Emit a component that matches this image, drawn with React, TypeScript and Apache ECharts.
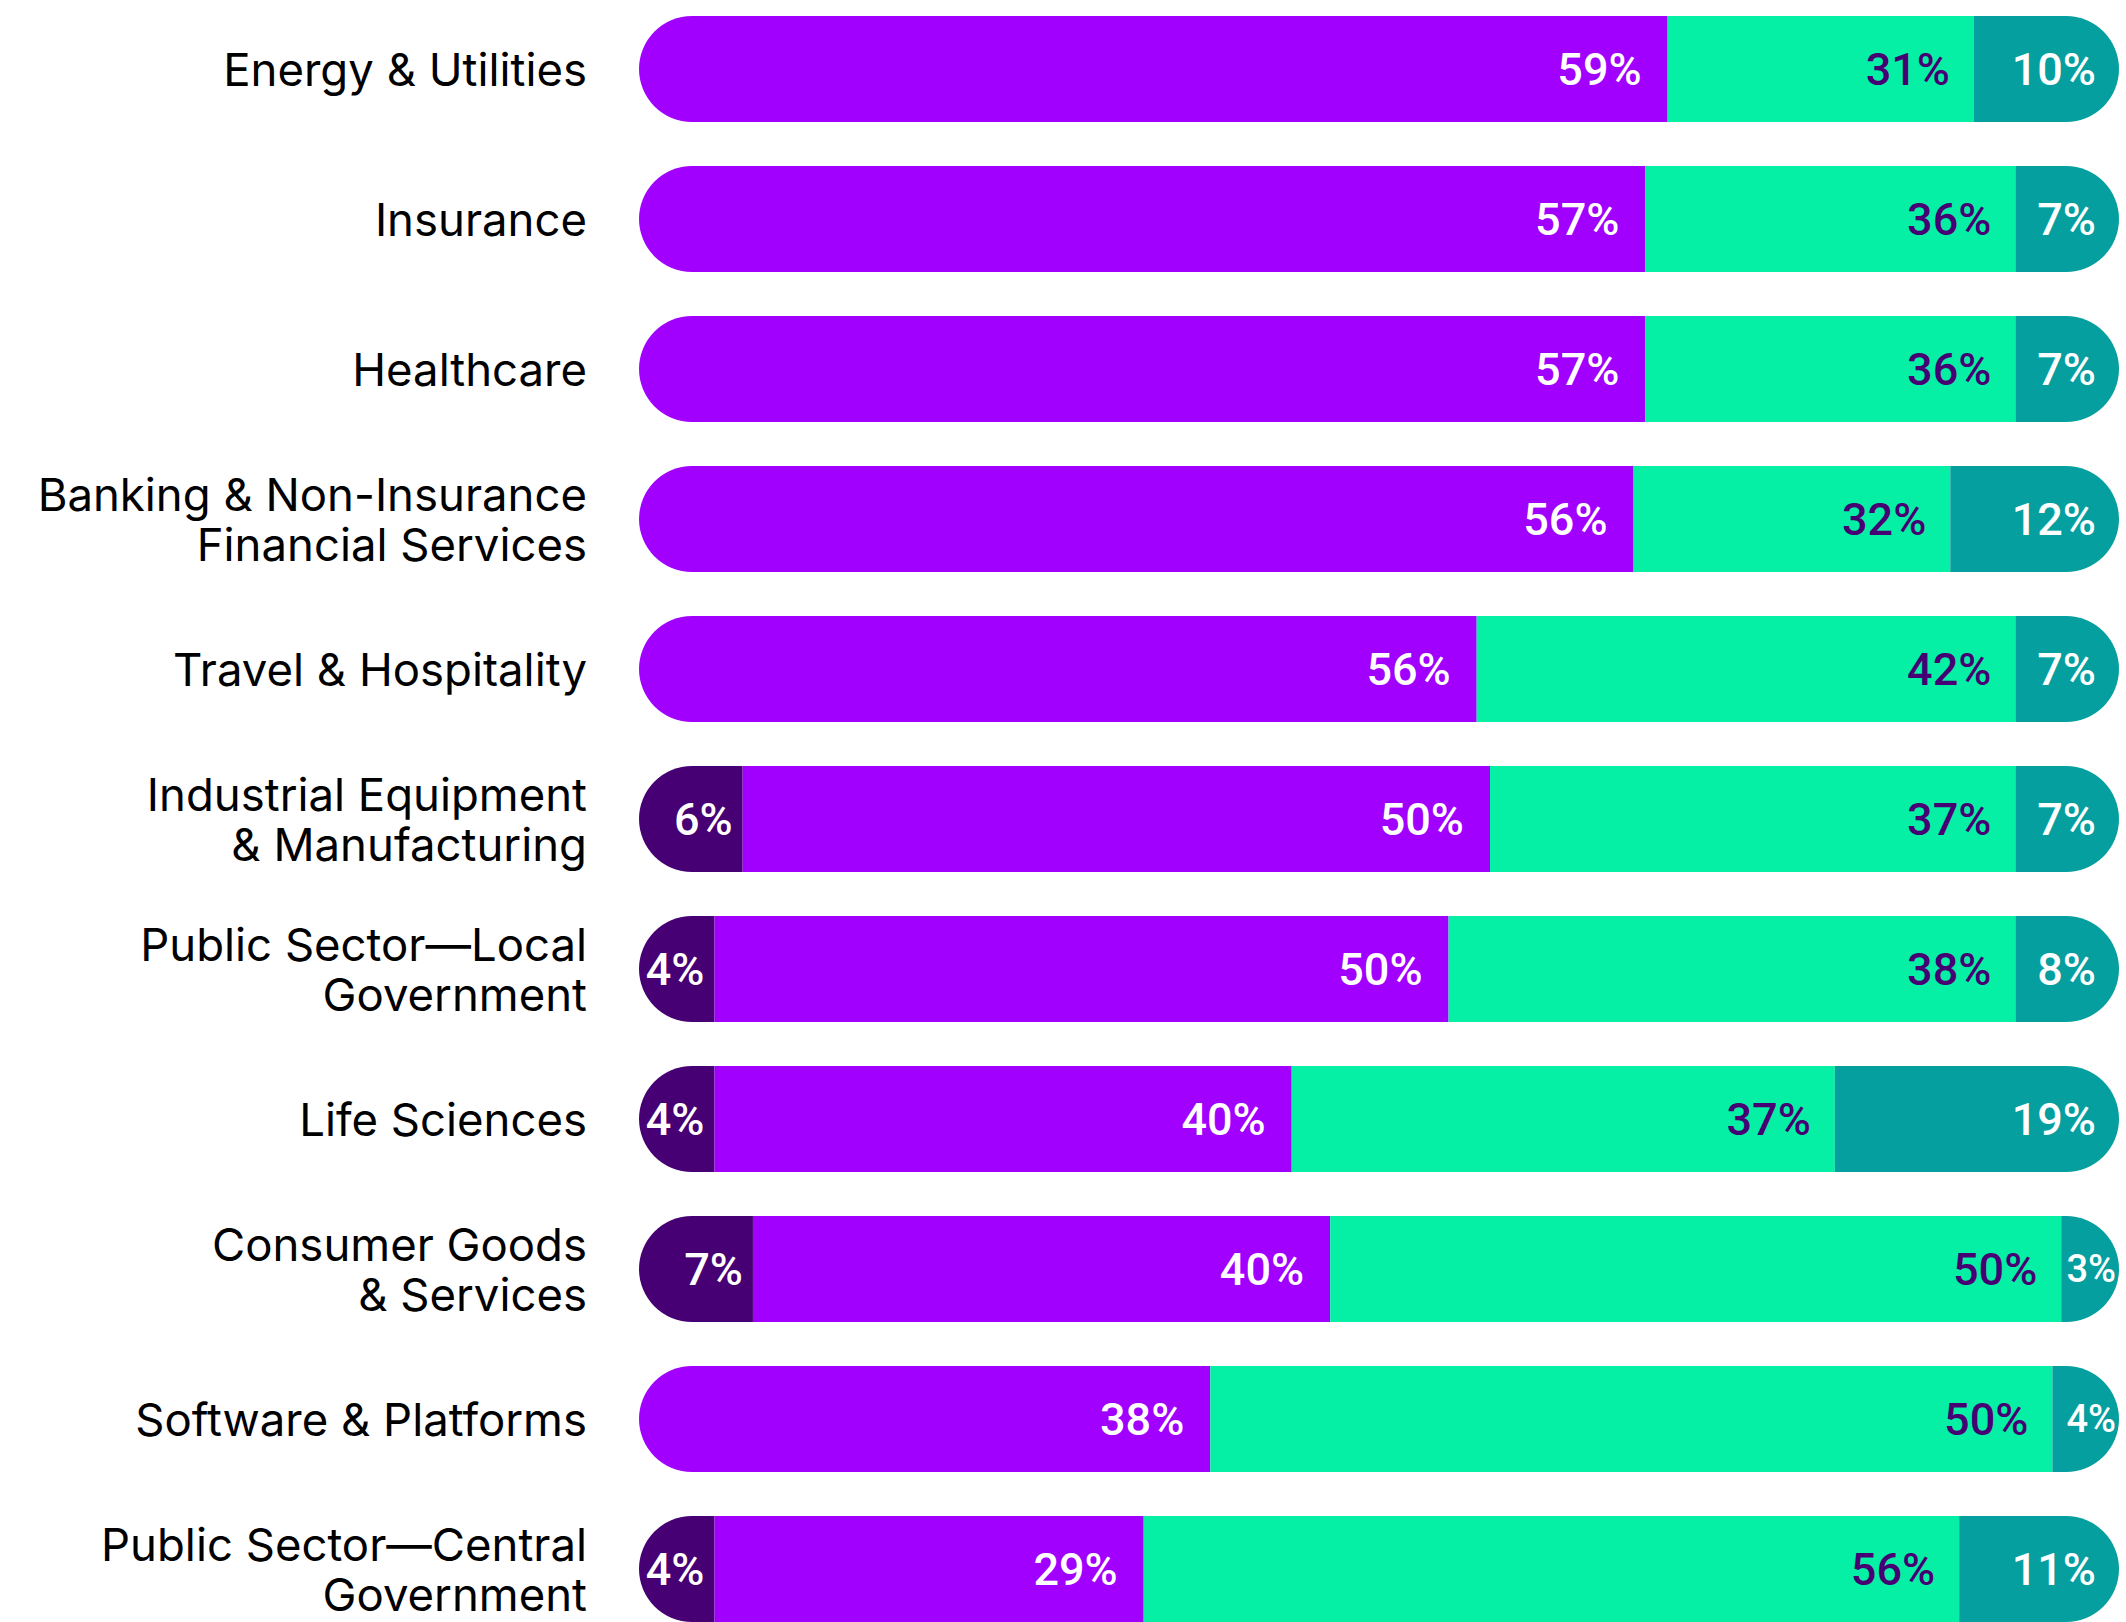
import React, { useEffect, useRef } from "react";
import * as echarts from "echarts";

const categories = [
  "Energy & Utilities",
  "Insurance",
  "Healthcare",
  "Banking & Non-Insurance\nFinancial Services",
  "Travel & Hospitality",
  "Industrial Equipment\n& Manufacturing",
  "Public Sector—Local\nGovernment",
  "Life Sciences",
  "Consumer Goods\n& Services",
  "Software & Platforms",
  "Public Sector—Central\nGovernment",
];

// segment widths as drawn in the picture (percent of bar length)
const darkValues = [0, 0, 0, 0, 0, 7.0, 5.1, 5.1, 7.7, 0, 5.1];
const purpleValues = [69.5, 68.0, 68.0, 67.2, 56.6, 50.5, 49.6, 39.0, 39.0, 38.6, 29.0];
const greenValues = [20.7, 25.0, 25.0, 21.4, 36.4, 35.5, 38.3, 36.7, 49.4, 56.9, 55.1];
const tealValues = [9.8, 7.0, 7.0, 11.4, 7.0, 7.0, 7.0, 19.2, 3.9, 4.5, 10.8];

// printed labels
const darkLabels = ["", "", "", "", "", "6%", "4%", "4%", "7%", "", "4%"];
const purpleLabels = ["59%", "57%", "57%", "56%", "56%", "50%", "50%", "40%", "40%", "38%", "29%"];
const greenLabels = ["31%", "36%", "36%", "32%", "42%", "37%", "38%", "37%", "50%", "50%", "56%"];
const tealLabels = ["10%", "7%", "7%", "12%", "7%", "7%", "8%", "19%", "3%", "4%", "11%"];

const FONT = "Roboto, 'Noto Sans', sans-serif";
const CAT_FONT = "Inter, Roboto, sans-serif";

export default function App() {
  const ref = useRef<HTMLDivElement>(null);

  useEffect(() => {
    if (!ref.current) return;
    const chart = echarts.init(ref.current, undefined, { renderer: "svg" });
    const segs = [darkValues, purpleValues, greenValues, tealValues];
    const R = 53;

    const radiusFor = (row: number, seg: number) => {
      let first = -1;
      let last = -1;
      segs.forEach((arr, k) => {
        if (arr[row] > 0) {
          if (first < 0) first = k;
          last = k;
        }
      });
      const tl = seg === first ? R : 0;
      const tr = seg === last ? R : 0;
      return [tl, tr, tr, tl];
    };

    const makeSeries = (
      name: string,
      seg: number,
      values: number[],
      labels: string[],
      color: string,
      labelColor: string,
      distance: number,
      small: number[] = []
    ) => ({
      name,
      type: "bar",
      stack: "total",
      barWidth: 106,
      itemStyle: { color },
      label: {
        show: true,
        position: "insideRight",
        distance,
        color: labelColor,
        fontFamily: FONT,
        fontSize: 45,
        fontWeight: 500,
      },
      data: values.map((v, i) => {
        const item: any = {
          value: v,
          itemStyle: { borderRadius: radiusFor(i, seg) },
          label: { show: v > 0 && labels[i] !== "", formatter: labels[i] },
        };
        if (small.includes(i)) {
          item.label.fontSize = 38;
          item.label.distance = 3;
        }
        return item;
      }),
    });

    chart.setOption({
      animation: false,
      grid: { left: 639, right: 7, top: 0, bottom: 0 },
      xAxis: { type: "value", min: 0, max: 100, show: false },
      yAxis: {
        type: "category",
        inverse: true,
        data: categories,
        axisLine: { show: false },
        axisTick: { show: false },
        splitLine: { show: false },
        axisLabel: {
          margin: 52,
          color: "#000",
          fontFamily: CAT_FONT,
          fontSize: 45.5,
          lineHeight: 50,
          align: "right",
        },
      },
      series: [
        makeSeries("Dark", 0, darkValues, darkLabels, "#460073", "#ffffff", 10),
        makeSeries("Purple", 1, purpleValues, purpleLabels, "#A100FF", "#ffffff", 26),
        makeSeries("Green", 2, greenValues, greenLabels, "#05F0A5", "#460073", 24),
        makeSeries("Teal", 3, tealValues, tealLabels, "#059F9F", "#ffffff", 23, [8, 9]),
      ],
    });
    return () => chart.dispose();
  }, []);

  return (
    <div
      ref={ref}
      style={{ position: "absolute", left: 0, top: -6, width: 2126, height: 1650, background: "#fff" }}
    />
  );
}
